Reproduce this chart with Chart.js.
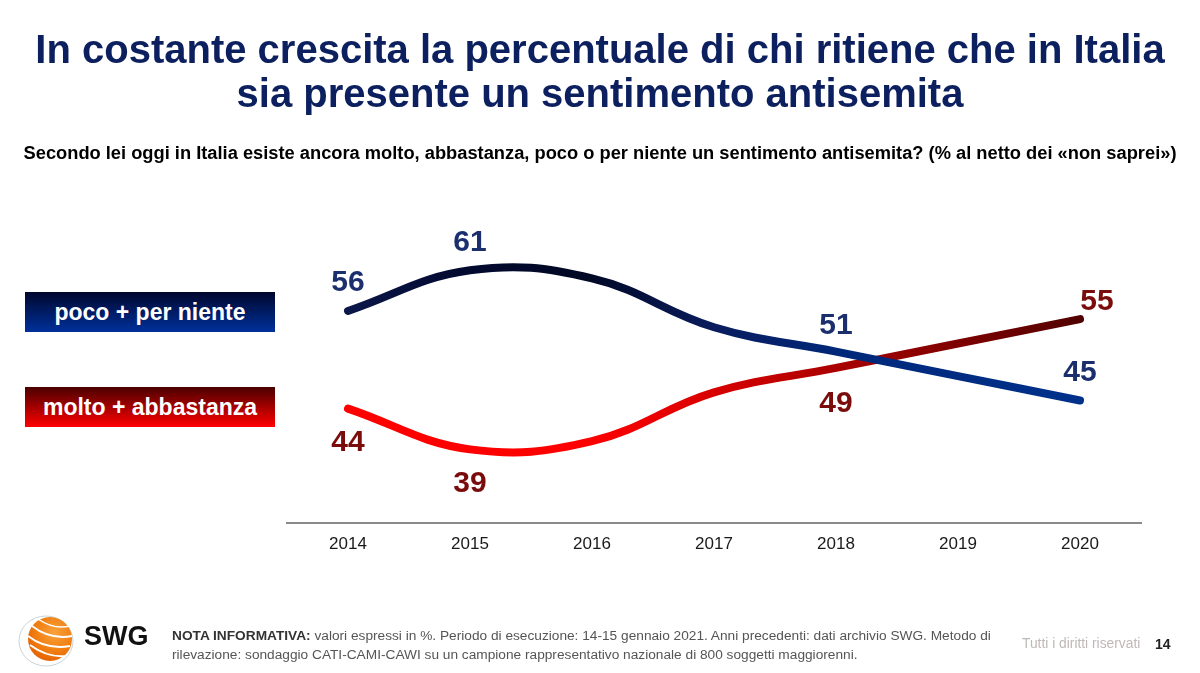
<!DOCTYPE html>
<html>
<head>
<meta charset="utf-8">
<script src="https://cdn.jsdelivr.net/npm/chart.js@4.4.1/dist/chart.umd.min.js"></script>
<style>
  html, body { margin:0; padding:0; background:#fff; }
  body { width:1200px; height:673px; position:relative; overflow:hidden; font-family:"Liberation Sans", Arial, sans-serif; }
  #chart { position:absolute; left:0; top:0; }
  .title { position:absolute; left:0; top:27px; width:1200px; text-align:center; color:#0c1f5e; font-weight:bold; font-size:40px; line-height:44px; }
  .subtitle { position:absolute; left:0; top:142px; width:1200px; text-align:center; color:#000; font-weight:bold; font-size:18.3px; }
  .legbox { position:absolute; left:25px; width:250px; height:40px; color:#fff; font-weight:bold; font-size:23px; line-height:41px; text-align:center; }
  .leg1 { top:292px; background:linear-gradient(to bottom,#00072e,#00309a); }
  .leg2 { top:387px; background:linear-gradient(to bottom,#4a0000,#ff0000); }
  .note { position:absolute; left:172px; top:626px; width:830px; font-size:13.7px; line-height:19px; color:#555; }
  .note b { color:#333; }
  .rights { position:absolute; left:1022px; top:636px; font-size:13.8px; color:#c0b8b8; }
  .page { position:absolute; left:1155px; top:636px; font-size:14px; font-weight:bold; color:#222; }
  .swg { position:absolute; left:84px; top:621px; font-size:27px; font-weight:bold; color:#111; letter-spacing:0px; }
  .logo { position:absolute; left:18px; top:612px; }
</style>
</head>
<body>
<canvas id="chart" width="1200" height="673"></canvas>
<div class="title">In costante crescita la percentuale di chi ritiene che in Italia<br>sia presente un sentimento antisemita</div>
<div class="subtitle">Secondo lei oggi in Italia esiste ancora molto, abbastanza, poco o per niente un sentimento antisemita? (% al netto dei «non saprei»)</div>
<div class="legbox leg1">poco + per niente</div>
<div class="legbox leg2">molto + abbastanza</div>
<svg class="logo" width="62" height="56" viewBox="0 0 62 56">
  <defs>
    <radialGradient id="og" cx="0.6" cy="0.35" r="0.75">
      <stop offset="0" stop-color="#f7a23a"/>
      <stop offset="0.6" stop-color="#f07c10"/>
      <stop offset="1" stop-color="#e05a00"/>
    </radialGradient>
  </defs>
  <ellipse cx="28" cy="29" rx="27" ry="25" fill="none" stroke="#c8d4d8" stroke-width="1"/>
  <circle cx="32" cy="27" r="22" fill="url(#og)"/>
  <path d="M10 24 Q28 38 52 34" stroke="#fff" stroke-width="2" fill="none"/>
  <path d="M12 33 Q30 46 48 44" stroke="#fff" stroke-width="2" fill="none"/>
  <path d="M14 14 Q32 28 54 24" stroke="#fff" stroke-width="2" fill="none"/>
  <path d="M20 7 Q36 18 52 14" stroke="#fff" stroke-width="1.5" fill="none"/>
</svg>
<div class="swg">SWG</div>
<div class="note"><b>NOTA INFORMATIVA:</b> valori espressi in %. Periodo di esecuzione: 14-15 gennaio 2021. Anni precedenti: dati archivio SWG. Metodo di rilevazione: sondaggio CATI-CAMI-CAWI su un campione rappresentativo nazionale di 800 soggetti maggiorenni.</div>
<div class="rights">Tutti i diritti riservati</div>
<div class="page">14</div>
<script>
const years = ['2014','2015','2016','2017','2018','2019','2020'];
const pocoPerNiente = [56, 61, 60, 54, 51, 48, 45];
const moltoAbbastanza = [44, 39, 40, 46, 49, 52, 55];
const pocoLabels = [56, 61, null, null, 51, null, 45];
const moltoLabels = [44, 39, null, null, 49, null, 55];

function grad(chart, stops) {
  const area = chart.chartArea;
  if (!area) return stops[0][1];
  const g = chart.ctx.createLinearGradient(area.left, 0, area.right, 0);
  stops.forEach(s => g.addColorStop(s[0], s[1]));
  return g;
}
const blueStops = [[0,'#101e58'],[0.2,'#030a30'],[0.35,'#000824'],[0.5,'#0a1c5e'],[0.65,'#00287a'],[1,'#00338f']];
const redStops = [[0,'#ff0000'],[0.35,'#ff0000'],[0.5,'#d80000'],[0.65,'#a80000'],[0.85,'#6a0000'],[1,'#3a0000']];

const labelPlugin = {
  id: 'valueLabels',
  afterDatasetsDraw(chart) {
    const ctx = chart.ctx;
    ctx.save();
    ctx.font = 'bold 30px "Liberation Sans", Arial, sans-serif';
    ctx.textAlign = 'center';
    ctx.textBaseline = 'middle';
    chart.data.datasets.forEach((ds, di) => {
      const meta = chart.getDatasetMeta(di);
      ds.valueLabels.forEach((v, i) => {
        if (v === null) return;
        const p = meta.data[i];
        const off = ds.labelOffset(i);
        ctx.fillStyle = ds.labelColor;
        ctx.fillText(String(v), p.x + off[0], p.y + off[1]);
      });
    });
    ctx.restore();
  }
};

new Chart(document.getElementById('chart'), {
  type: 'line',
  data: {
    labels: years,
    datasets: [
      {
        label: 'poco + per niente',
        data: pocoPerNiente,
        valueLabels: pocoLabels,
        labelColor: '#1b2f6e',
        labelOffset: i => [0, i === 4 ? -26 : -28],
        borderColor: c => grad(c.chart, blueStops),
        borderWidth: 8,
        borderCapStyle: 'round',
        tension: 0.4,
        pointRadius: 0,
        fill: false
      },
      {
        label: 'molto + abbastanza',
        data: moltoAbbastanza,
        valueLabels: moltoLabels,
        labelColor: '#7a0c0c',
        labelOffset: i => (i === 6 ? [17, -17] : [0, i === 4 ? 36 : 34]),
        borderColor: c => grad(c.chart, redStops),
        borderWidth: 8,
        borderCapStyle: 'round',
        tension: 0.4,
        pointRadius: 0,
        fill: false
      }
    ]
  },
  options: {
    responsive: false,
    animation: false,
    layout: { padding: { left: 287, right: 59, top: 197, bottom: 106 } },
    plugins: { legend: { display: false }, tooltip: { enabled: false } },
    scales: {
      x: {
        offset: true,
        grid: { display: false, drawTicks: false },
        border: { display: true, color: '#8a8a8a', width: 2 },
        ticks: { color: '#1a1a1a', font: { family: '"Liberation Sans", Arial, sans-serif', size: 17 }, padding: 12 }
      },
      y: {
        display: false,
        min: 30,
        max: 70
      }
    }
  },
  plugins: [labelPlugin]
});
</script>
</body>
</html>
